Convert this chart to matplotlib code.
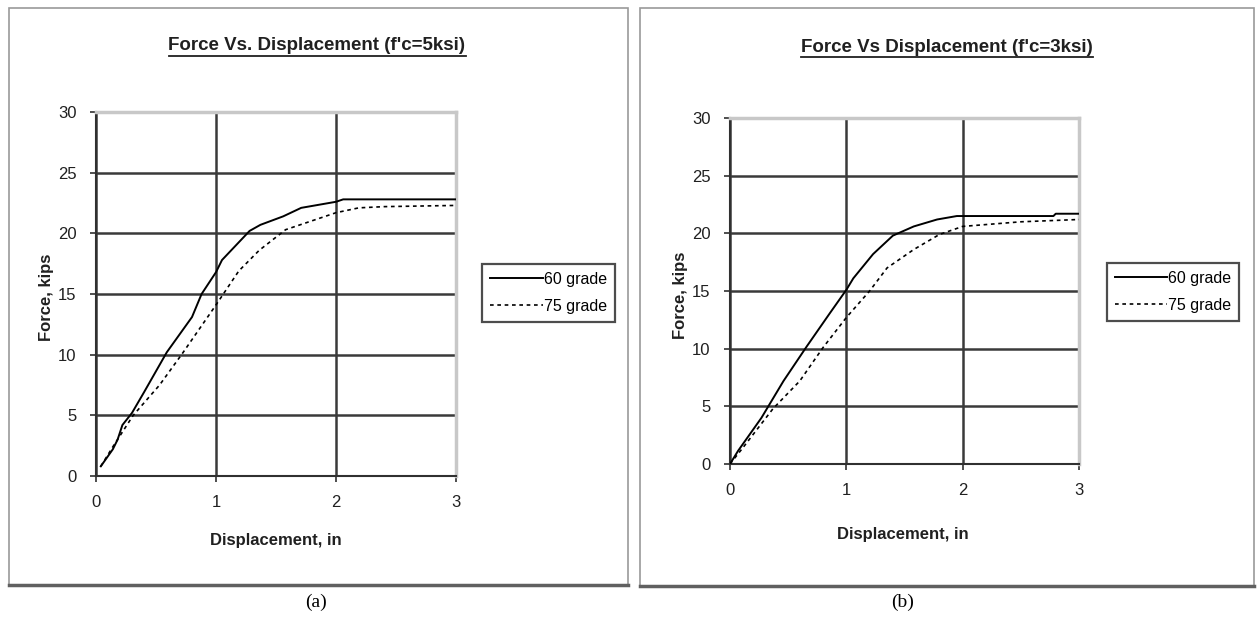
import matplotlib
matplotlib.use("Agg")
import matplotlib.pyplot as plt
from matplotlib.patches import Rectangle
from matplotlib.lines import Line2D

# Data (displacement in, force kips)
disp_a_60 = [0.04, 0.14, 0.18, 0.22, 0.30, 0.40, 0.59, 0.80, 0.88, 1.00, 1.05, 1.28, 1.37, 1.56, 1.71, 2.00, 2.06, 3.00]
force_a_60 = [0.8, 2.2, 3.0, 4.2, 5.2, 6.9, 10.2, 13.1, 15.0, 16.8, 17.8, 20.2, 20.7, 21.4, 22.1, 22.6, 22.8, 22.8]
disp_a_75 = [0.04, 0.14, 0.31, 0.53, 0.72, 1.00, 1.19, 1.36, 1.58, 2.00, 2.19, 2.40, 3.00]
force_a_75 = [0.8, 2.4, 5.0, 7.5, 10.1, 14.1, 16.9, 18.6, 20.3, 21.7, 22.1, 22.2, 22.3]

disp_b_60 = [0.0, 0.07, 0.27, 0.46, 0.66, 0.86, 1.00, 1.06, 1.23, 1.40, 1.58, 1.78, 1.95, 2.78, 2.80, 3.00]
force_b_60 = [0.0, 1.15, 4.0, 7.2, 10.2, 13.1, 15.1, 16.1, 18.2, 19.8, 20.6, 21.2, 21.5, 21.5, 21.7, 21.7]
disp_b_75 = [0.0, 0.11, 0.37, 0.60, 0.80, 1.00, 1.20, 1.35, 1.58, 1.80, 2.00, 2.50, 3.00]
force_b_75 = [0.0, 1.4, 4.8, 7.2, 10.1, 12.7, 15.0, 17.0, 18.6, 19.9, 20.6, 21.0, 21.2]

x_ticks = [0, 1, 2, 3]
y_ticks = [0, 5, 10, 15, 20, 25, 30]
series_names = ["60 grade", "75 grade"]

W, H = 1259, 626
fig = plt.figure(figsize=(W / 100, H / 100), dpi=100)
fig.patch.set_facecolor("white")

narrow = ["Liberation Sans Narrow", "Liberation Sans", "DejaVu Sans"]


def fx(px):
    return px / W


def fy(py):
    return 1 - py / H


def panel(x0, y0, x1, y1):
    # outer chart frame with a darker shadow on the bottom
    fig.patches.append(Rectangle((fx(x0), fy(y1)), fx(x1 - x0), (y1 - y0) / H,
                                 transform=fig.transFigure, fill=False,
                                 edgecolor="#9a9a9a", lw=1.2))
    fig.lines.append(Line2D([fx(x0), fx(x1)], [fy(y1), fy(y1)],
                            transform=fig.transFigure, color="#606060", lw=2.5))


def draw_chart(rect, d60, f60, d75, f75, title, tcx, tcy, xlab_xy, ylab_xy, leg_rect):
    ax = fig.add_axes(rect)
    ax.plot(d60, f60, color="black", lw=1.4, label=series_names[0], zorder=3)
    ax.plot(d75, f75, color="black", lw=1.2, ls=(0, (2.2, 2.2)), label=series_names[1], zorder=3)
    ax.set_xlim(0, 3)
    ax.set_ylim(0, 30)
    ax.set_xticks(x_ticks)
    ax.set_yticks(y_ticks)
    ax.grid(True, color="#3a3a3a", lw=1.8)
    ax.set_axisbelow(True)
    for s in ["top", "right"]:
        ax.spines[s].set_color("#c8c8c8")
        ax.spines[s].set_linewidth(2.5)
    for s in ["left", "bottom"]:
        ax.spines[s].set_color("#303030")
        ax.spines[s].set_linewidth(1.5)
    ax.tick_params(direction="out", length=4, width=1.2, color="#303030", pad=10)
    for lab in ax.get_xticklabels() + ax.get_yticklabels():
        lab.set_family(narrow)
        lab.set_fontsize(12)
        lab.set_color("#202020")

    t = fig.text(fx(tcx), fy(tcy), title, ha="center", va="center",
                 family=narrow, fontsize=13.5, fontweight="bold", color="#202020")
    fig.canvas.draw()
    bb = t.get_window_extent().transformed(fig.transFigure.inverted())
    fig.lines.append(Line2D([bb.x0, bb.x1], [bb.y0 - 0.002, bb.y0 - 0.002],
                            transform=fig.transFigure, color="#202020", lw=1.3))

    fig.text(fx(xlab_xy[0]), fy(xlab_xy[1]), "Displacement, in", ha="center", va="center",
             family=narrow, fontsize=12, fontweight="bold", color="#202020")
    fig.text(fx(ylab_xy[0]), fy(ylab_xy[1]), "Force, kips", ha="center", va="center",
             rotation=90, family=narrow, fontsize=12, fontweight="bold", color="#202020")

    lx0, ly0, lx1, ly1 = leg_rect
    leg = ax.legend(loc="center", bbox_to_anchor=(fx((lx0 + lx1) / 2), fy((ly0 + ly1) / 2)),
                    bbox_transform=fig.transFigure, frameon=True, fancybox=False,
                    edgecolor="#202020", handlelength=3.3, handletextpad=0.05,
                    borderpad=0.5, labelspacing=0.75, borderaxespad=0,
                    prop={"family": narrow, "size": 11.5})
    leg.get_frame().set_linewidth(1.6)
    return ax


panel(9, 8, 628, 585)
panel(640, 8, 1254, 586)

draw_chart([fx(96), fy(476), fx(456 - 96), (476 - 112) / H],
           disp_a_60, force_a_60, disp_a_75, force_a_75,
           "Force Vs. Displacement (f'c=5ksi)", 317, 46, (276, 540), (47, 297),
           (481, 260, 616, 326))

draw_chart([fx(730), fy(464), fx(1079 - 730), (464 - 118) / H],
           disp_b_60, force_b_60, disp_b_75, force_b_75,
           "Force Vs Displacement (f'c=3ksi)", 947, 47, (903, 534), (680, 295),
           (1104, 256, 1242, 328))

fig.text(fx(316), fy(602), "(a)", ha="center", va="center",
         family=["Liberation Serif", "DejaVu Serif"], fontsize=14)
fig.text(fx(903), fy(602), "(b)", ha="center", va="center",
         family=["Liberation Serif", "DejaVu Serif"], fontsize=14)

fig.savefig("out.png", dpi=100)
